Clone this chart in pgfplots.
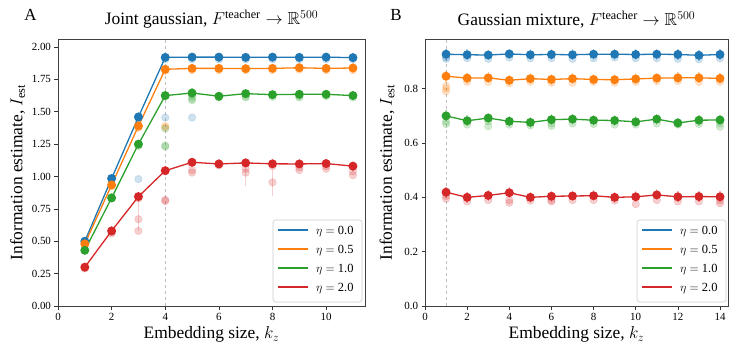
\documentclass[border=0pt]{standalone}
\usepackage{amssymb}
\usepackage{fontspec}
\setmainfont{Liberation Serif}
\usepackage{pgfplots}
\pgfplotsset{compat=1.18}
\definecolor{tabblue}{HTML}{1F77B4}
\definecolor{taborange}{HTML}{FF7F0E}
\definecolor{tabgreen}{HTML}{2CA02C}
\definecolor{tabred}{HTML}{D62728}
\pgfplotsset{
  mystyle/.style={scale only axis, height=267bp, xmin=0, ymin=0,
    tick align=outside, xtick pos=lower, ytick pos=left,
    major tick length=3.5bp, tick style={black!80, line width=0.6pt},
    axis line style={line width=0.7pt, black!75},
    ticklabel style={font=\fontsize{11}{11}\selectfont},
    /pgf/number format/assume math mode=true,
    label style={font=\fontsize{17.5}{17.5}\selectfont},
    title style={font=\fontsize{17.5}{18}\selectfont, at={(0.5,1)}, anchor=south, yshift=1bp},
    xlabel style={at={(axis description cs:0.5,-0.122)}, anchor=base},
  },
  main/.style={color=#1, line width=1.3pt, mark=*, mark size=3.8bp, mark options={solid}, forget plot,
    error bars/.cd, y dir=both, y fixed=\errsize, error mark=none,
    error bar style={line width=1.3pt, opacity=0.35}},
  faint/.style={only marks, color=#1, mark=*, mark size=3.8bp, opacity=0.22, forget plot},
  ebars/.style={draw=none, mark=none, forget plot,
    error bars/.cd, y dir=both, y explicit, error mark=none,
    error bar style={draw=#1, line width=1.3pt, opacity=0.22}},
}
% manual legend: #1 = x of box's left edge (bp, in picture coordinates)
\newcommand{\mylegend}[1]{%
  \begin{scope}[shift={(#1,0bp)}]
    \draw[black!20, line width=0.6pt, rounded corners=2.5bp, fill=white, fill opacity=0.8] (0bp,4bp) rectangle (89bp,86bp);
    \foreach \yy/\cc/\tt in {76/tabblue/0.0, 57/taborange/0.5, 38/tabgreen/1.0, 19/tabred/2.0}{
      \draw[\cc, line width=1.4pt] (5bp,\yy bp) -- (35bp,\yy bp);
      \node[anchor=base west, inner sep=0pt, font=\fontsize{12.5}{12.5}\selectfont] at (43bp,\yy bp-4.2bp) {$\eta=$ \tt};
    }
  \end{scope}}
\begin{document}
\begin{tikzpicture}
\path[use as bounding box] (-58bp,-39bp) rectangle (672bp,306bp);
% ---------------- Panel A ----------------
\def\errsize{0.035}
\begin{axis}[mystyle, width=307bp, xmax=11.45, ymax=2.062,
  xtick={0,2,4,6,8,10}, ytick={0,0.25,...,2.0},
  yticklabel style={/pgf/number format/.cd, fixed, fixed zerofill, precision=2},
  title={Joint gaussian, $F^{\mathrm{teacher}}\to\mathbb{R}^{500}$},
  xlabel={Embedding size, $k_z$},
  ylabel={Information estimate, $I_{\mathrm{est}}$},
  ylabel style={at={(axis description cs:-0.132,0.5)}, anchor=center},
  clip=false]
\addplot[forget plot, dashed, black!25, line width=1pt] coordinates {(4,0) (4,2.062)};
% faint runs
\addplot[faint=tabblue] coordinates {(1,0.49)(2,0.975)(3,0.98)(3,1.45)(4,1.455)(4,1.905)(5,1.455)(5,1.905)(6,1.905)(7,1.905)(8,1.905)(9,1.905)(10,1.905)(11,1.905)};
\addplot[faint=taborange] coordinates {(1,0.47)(2,0.925)(3,1.375)(4,1.39)(4,1.38)(4,1.815)(5,1.82)(6,1.82)(7,1.82)(8,1.82)(9,1.825)(10,1.82)(11,1.82)};
\addplot[faint=tabgreen] coordinates {(1,0.43)(2,0.83)(3,1.235)(4,1.37)(4,1.24)(4,1.23)(5,1.60)(5,1.59)(5,1.62)(6,1.61)(7,1.62)(7,1.61)(8,1.615)(9,1.62)(9,1.61)(10,1.62)(11,1.61)};
\addplot[faint=tabred] coordinates {(1,0.29)(2,0.56)(2,0.57)(3,0.83)(3,0.67)(3,0.58)(4,0.82)(4,0.81)(5,1.05)(5,1.03)(6,1.085)(7,1.06)(7,1.03)(8,0.955)(8,1.08)(9,1.07)(9,1.05)(10,1.08)(10,1.06)(11,1.04)(11,1.01)};
\addplot[ebars=tabred] coordinates {(3,0.715) +- (0,0.135) (7,1.0) +- (0,0.07) (8,0.95) +- (0,0.1)};
% mean curves
\addplot[main=tabblue] coordinates {(1,0.50)(2,0.985)(3,1.46)(4,1.92)(5,1.922)(6,1.922)(7,1.92)(8,1.922)(9,1.92)(10,1.922)(11,1.918)};
\addplot[main=taborange] coordinates {(1,0.48)(2,0.935)(3,1.39)(4,1.828)(5,1.835)(6,1.835)(7,1.833)(8,1.835)(9,1.84)(10,1.835)(11,1.838)};
\addplot[main=tabgreen] coordinates {(1,0.43)(2,0.835)(3,1.25)(4,1.625)(5,1.645)(6,1.62)(7,1.64)(8,1.632)(9,1.635)(10,1.635)(11,1.625)};
\addplot[main=tabred] coordinates {(1,0.30)(2,0.58)(3,0.845)(4,1.045)(5,1.11)(6,1.097)(7,1.105)(8,1.098)(9,1.097)(10,1.10)(11,1.08)};
\node[font=\fontsize{17}{17}\selectfont] at (axis description cs:-0.09,1.09) {A};
\end{axis}
\mylegend{215bp}
% ---------------- Panel B ----------------
\def\errsize{0.02}
\begin{axis}[mystyle, at={(367bp,0bp)}, width=303bp, xmax=14.38, ymax=0.983,
  xtick={0,2,...,14}, ytick={0,0.2,...,0.8},
  yticklabel style={/pgf/number format/.cd, fixed, fixed zerofill, precision=1},
  title={Gaussian mixture, $F^{\mathrm{teacher}}\to\mathbb{R}^{500}$},
  xlabel={Embedding size, $k_z$},
  ylabel={Information estimate, $I_{\mathrm{est}}$},
  ylabel style={at={(axis description cs:-0.125,0.5)}, anchor=center},
  clip=false]
\addplot[forget plot, dashed, black!25, line width=1pt] coordinates {(1,0) (1,0.983)};
\addplot[faint=tabblue] coordinates {(1,0.91)(1,0.915)(2,0.912)(3,0.91)(4,0.915)(5,0.912)(6,0.912)(7,0.91)(8,0.912)(9,0.915)(10,0.912)(11,0.912)(12,0.91)(13,0.908)(14,0.912)};
\addplot[faint=taborange] coordinates {(1,0.80)(1,0.79)(1,0.81)(2,0.825)(3,0.825)(4,0.82)(5,0.825)(6,0.822)(7,0.822)(8,0.825)(9,0.822)(10,0.825)(11,0.828)(12,0.828)(13,0.825)(14,0.825)};
\addplot[faint=tabgreen] coordinates {(1,0.68)(1,0.67)(2,0.668)(3,0.662)(3,0.68)(4,0.668)(5,0.665)(6,0.663)(6,0.672)(7,0.672)(8,0.67)(9,0.668)(10,0.668)(11,0.672)(12,0.668)(13,0.67)(14,0.66)(14,0.672)};
\addplot[faint=tabred] coordinates {(1,0.405)(1,0.395)(2,0.385)(3,0.39)(4,0.39)(4,0.38)(5,0.388)(6,0.39)(6,0.385)(7,0.39)(8,0.39)(9,0.388)(10,0.375)(11,0.39)(12,0.385)(13,0.385)(14,0.378)(14,0.388)};
\addplot[main=tabblue] coordinates {(1,0.927)(2,0.925)(3,0.924)(4,0.928)(5,0.925)(6,0.926)(7,0.925)(8,0.927)(9,0.927)(10,0.926)(11,0.927)(12,0.926)(13,0.923)(14,0.926)};
\addplot[main=taborange] coordinates {(1,0.846)(2,0.839)(3,0.84)(4,0.831)(5,0.837)(6,0.834)(7,0.837)(8,0.834)(9,0.833)(10,0.836)(11,0.839)(12,0.84)(13,0.84)(14,0.838)};
\addplot[main=tabgreen] coordinates {(1,0.70)(2,0.682)(3,0.692)(4,0.68)(5,0.676)(6,0.686)(7,0.688)(8,0.684)(9,0.683)(10,0.678)(11,0.688)(12,0.674)(13,0.684)(14,0.685)};
\addplot[main=tabred] coordinates {(1,0.419)(2,0.40)(3,0.407)(4,0.417)(5,0.40)(6,0.404)(7,0.405)(8,0.406)(9,0.40)(10,0.402)(11,0.409)(12,0.402)(13,0.403)(14,0.402)};
\node[font=\fontsize{17}{17}\selectfont] at (axis description cs:-0.096,1.09) {B};
\end{axis}
\mylegend{579bp}
\end{tikzpicture}
\end{document}
